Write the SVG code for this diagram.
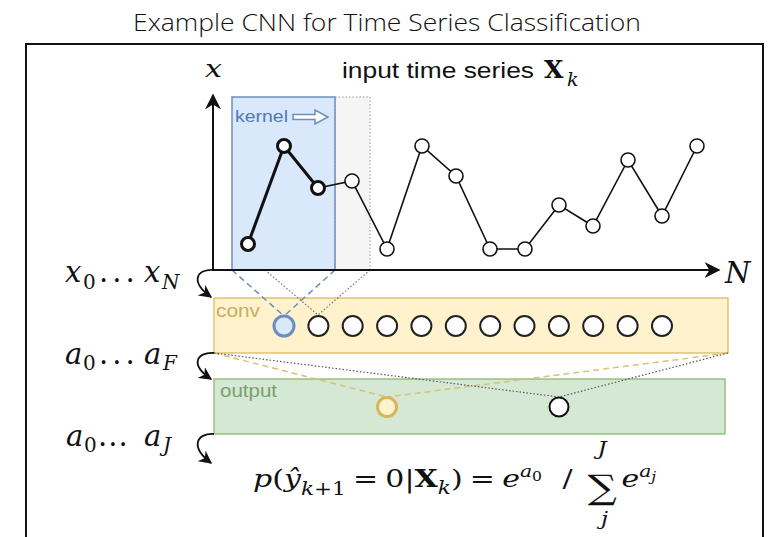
<svg xmlns="http://www.w3.org/2000/svg" width="770" height="537" viewBox="0 0 770 537">
<style>
.title{font-family:"Open Sans","Liberation Sans",sans-serif;font-weight:300;font-size:24px;fill:#111}
.math{font-family:"DejaVu Serif","Liberation Serif",serif;font-style:italic;fill:#111}
.rm{font-style:normal}
.bf{font-style:normal;font-weight:bold}
.sans{font-family:"Liberation Sans",Arial,sans-serif}
.pt{fill:#fff;stroke:#111;stroke-width:1.6}
.ptb{fill:#fff;stroke:#111;stroke-width:3}
.cc{fill:#fff;stroke:#222;stroke-width:2}
.ax{stroke:#111;stroke-width:2;fill:none}
.curl{stroke:#111;stroke-width:1.8;fill:none}
</style>
<defs>
<marker id="ah" viewBox="0 0 10 10" refX="9" refY="5" markerWidth="13" markerHeight="13" markerUnits="userSpaceOnUse" orient="auto">
<path d="M0,0 L10,5 L0,10 L3,5 Z" fill="#111"/>
</marker>
<marker id="ahB" viewBox="0 0 10 10" refX="9" refY="5" markerWidth="16" markerHeight="16" markerUnits="userSpaceOnUse" orient="auto">
<path d="M0,0 L10,5 L0,10 L3,5 Z" fill="#111"/>
</marker>
</defs>
<rect width="770" height="537" fill="#fff"/>
<text class="title" x="387" y="31" text-anchor="middle" textLength="508" lengthAdjust="spacingAndGlyphs">Example CNN for Time Series Classification</text>
<rect x="26" y="44" width="737" height="520" fill="none" stroke="#111" stroke-width="2"/>

<g id="kernel-window">
<rect x="335" y="97" width="35" height="173" fill="#f5f5f5" stroke="#999" stroke-width="1" stroke-dasharray="1.5,2"/>
<rect x="232" y="97" width="103" height="173" fill="#dae8fc" stroke="#6c8ebf" stroke-width="1.5"/>
<text class="sans" x="235" y="122" font-size="17" fill="#4f79b8" textLength="53" lengthAdjust="spacingAndGlyphs">kernel</text>
<path d="M293,114.5 L315,114.5 L315,110 L328,117 L315,124 L315,119.5 L293,119.5 Z" fill="#fff" stroke="#6c8ebf" stroke-width="1.5"/>
</g>

<g id="conv-layer">
<rect x="214" y="298" width="514" height="55" fill="#fff2cc" stroke="#d6b656" stroke-width="1.2"/>
<text class="sans" x="216" y="317" font-size="19" fill="#c9ae63" textLength="44" lengthAdjust="spacingAndGlyphs">conv</text>
<circle cx="284" cy="326" r="10" fill="#dae8fc" stroke="#6c8ebf" stroke-width="3"/>
<circle class="cc" cx="318.4" cy="326" r="10"/>
<circle class="cc" cx="352.7" cy="326" r="10"/>
<circle class="cc" cx="387.1" cy="326" r="10"/>
<circle class="cc" cx="421.4" cy="326" r="10"/>
<circle class="cc" cx="455.8" cy="326" r="10"/>
<circle class="cc" cx="490.2" cy="326" r="10"/>
<circle class="cc" cx="524.5" cy="326" r="10"/>
<circle class="cc" cx="558.9" cy="326" r="10"/>
<circle class="cc" cx="593.2" cy="326" r="10"/>
<circle class="cc" cx="627.6" cy="326" r="10"/>
<circle class="cc" cx="662" cy="326" r="10"/>
</g>

<g id="output-layer">
<rect x="214" y="379" width="511" height="55" fill="#d5e8d4" stroke="#82b366" stroke-width="1.2"/>
<text class="sans" x="220" y="397" font-size="19" fill="#79a06a" textLength="57" lengthAdjust="spacingAndGlyphs">output</text>
</g>

<g id="connectors">
<line x1="232" y1="270" x2="284" y2="316" stroke="#6c8ebf" stroke-width="1.5" stroke-dasharray="6,4"/>
<line x1="335" y1="270" x2="284" y2="316" stroke="#6c8ebf" stroke-width="1.5" stroke-dasharray="6,4"/>
<line x1="265" y1="270" x2="318" y2="315" stroke="#777" stroke-width="1.2" stroke-dasharray="1.5,2"/>
<line x1="370" y1="270" x2="318" y2="315" stroke="#777" stroke-width="1.2" stroke-dasharray="1.5,2"/>
<line x1="214" y1="353" x2="387" y2="397" stroke="#d6c27a" stroke-width="1.5" stroke-dasharray="6,4"/>
<line x1="728" y1="353" x2="387" y2="397" stroke="#d6c27a" stroke-width="1.5" stroke-dasharray="6,4"/>
<line x1="214" y1="353" x2="559" y2="397" stroke="#556" stroke-width="1.2" stroke-dasharray="1.5,2"/>
<line x1="728" y1="353" x2="559" y2="397" stroke="#556" stroke-width="1.2" stroke-dasharray="1.5,2"/>
<path class="curl" d="M214,270 C196,269 190,282 211,297" marker-end="url(#ah)"/>
<path class="curl" d="M214,353 C196,352 190,365 211,379" marker-end="url(#ah)"/>
<path class="curl" d="M214,434 C196,433 190,447 211,463" marker-end="url(#ah)"/>
</g>

<g id="output-nodes">
<circle cx="387" cy="407" r="9.5" fill="#fff2cc" stroke="#d6b656" stroke-width="3"/>
<circle cx="559" cy="407" r="9.5" fill="#fff" stroke="#111" stroke-width="2"/>
</g>

<g id="axes">
<line class="ax" x1="213" y1="270" x2="213" y2="95" marker-end="url(#ahB)"/>
<line class="ax" x1="212" y1="270" x2="719" y2="270" marker-end="url(#ahB)"/>
<text class="math" x="205" y="77" font-size="24" textLength="17" lengthAdjust="spacingAndGlyphs">x</text>
<text class="math" x="725" y="283" font-size="29">N</text>
</g>

<g id="series">
<polyline points="248,244 284,146 318,188" fill="none" stroke="#111" stroke-width="3"/>
<polyline points="318,188 352,181 387,249 422,146 456,176 490,249 525,249 559,205 593,226 628,160 662,216 697,146" fill="none" stroke="#111" stroke-width="1.6"/>
<circle class="ptb" cx="248" cy="244" r="6.5"/>
<circle class="ptb" cx="284" cy="146" r="6.5"/>
<circle class="ptb" cx="318" cy="188" r="6.5"/>
<circle class="pt" cx="352" cy="181" r="7"/>
<circle class="pt" cx="387" cy="249" r="7"/>
<circle class="pt" cx="422" cy="146" r="7"/>
<circle class="pt" cx="456" cy="176" r="7"/>
<circle class="pt" cx="490" cy="249" r="7"/>
<circle class="pt" cx="525" cy="249" r="7"/>
<circle class="pt" cx="559" cy="205" r="7"/>
<circle class="pt" cx="593" cy="226" r="7"/>
<circle class="pt" cx="628" cy="160" r="7"/>
<circle class="pt" cx="662" cy="216" r="7"/>
<circle class="pt" cx="697" cy="146" r="7"/>
</g>

<g id="input-label">
<text class="sans" x="342" y="78" font-size="22" fill="#111" textLength="192" lengthAdjust="spacingAndGlyphs">input time series</text>
<text class="math" x="544" y="78" font-size="25"><tspan class="bf">X</tspan><tspan x="567" y="86" font-size="19">k</tspan></text>
</g>

<g id="label-x">
<text class="math" font-size="29"><tspan x="65" y="282">x</tspan><tspan class="rm" x="83" y="289" font-size="20">0</tspan><tspan class="rm" x="99" y="282" letter-spacing="4">...</tspan><tspan x="144" y="282">x</tspan><tspan x="162" y="289" font-size="20">N</tspan></text>
</g>
<g id="label-aF">
<text class="math" font-size="29"><tspan x="65" y="364">a</tspan><tspan class="rm" x="83" y="370" font-size="20">0</tspan><tspan class="rm" x="99" y="364" letter-spacing="4">...</tspan><tspan x="144" y="364">a</tspan><tspan x="163" y="370" font-size="20">F</tspan></text>
</g>
<g id="label-aJ">
<text class="math" font-size="29"><tspan x="66" y="446">a</tspan><tspan class="rm" x="84" y="452" font-size="20">0</tspan><tspan class="rm" x="98" y="446" letter-spacing="1">...</tspan><tspan x="144" y="446">a</tspan><tspan x="163" y="452" font-size="20">J</tspan></text>
</g>

<g id="formula" transform="translate(253,0) scale(1.2,1)">
<text class="math" x="0" y="487" font-size="25">p<tspan class="rm">(</tspan>ŷ<tspan dy="8" font-size="18">k</tspan><tspan class="rm" font-size="18">+1</tspan><tspan class="rm" dy="-8" dx="6">=</tspan><tspan class="rm" dx="6">0|</tspan><tspan class="bf">X</tspan><tspan dy="7" font-size="18">k</tspan><tspan class="rm" dy="-7">)</tspan><tspan class="rm" dx="6">=</tspan><tspan dx="6">e</tspan><tspan dy="-10" font-size="17">a</tspan><tspan class="rm" dy="4" font-size="13">0</tspan><tspan class="rm" dy="6" dx="17">/</tspan></text>
<text class="rm" x="279" y="499" font-family="DejaVu Serif,serif" font-size="34" fill="#111">∑</text>
<text class="math" x="287" y="455" font-size="19">J</text>
<text class="math" x="290" y="525" font-size="19">j</text>
<text class="math" x="307" y="487" font-size="25">e<tspan dy="-10" font-size="17">a</tspan><tspan dy="4" font-size="13">j</tspan></text>
</g>
</svg>
